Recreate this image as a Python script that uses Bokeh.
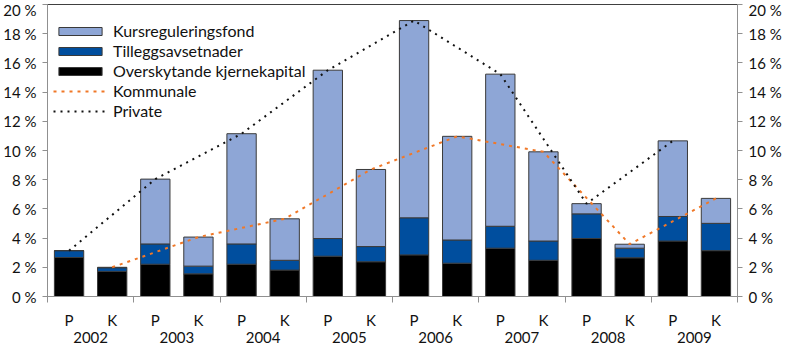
from bokeh.plotting import figure
from bokeh.models import (ColumnDataSource, Range1d, LinearAxis, FixedTicker,
                          Legend, LegendItem)
from bokeh.embed import file_html
from bokeh.resources import INLINE

years = ["2002", "2003", "2004", "2005", "2006", "2007", "2008", "2009"]
groups = ["P", "K"] * 8
# values in percent, bars in order 2002 P, 2002 K, 2003 P, ...
kjerne = [2.67, 1.72, 2.21, 1.55, 2.21, 1.81, 2.76, 2.38, 2.85, 2.28, 3.31, 2.48, 3.97, 2.65, 3.80, 3.14]
tillegg = [0.47, 0.25, 1.39, 0.53, 1.39, 0.67, 1.21, 1.04, 2.54, 1.59, 1.50, 1.32, 1.69, 0.66, 1.68, 1.87]
kurs = [0.00, 0.03, 4.44, 1.99, 7.55, 2.84, 11.53, 5.28, 13.51, 7.10, 10.42, 6.11, 0.70, 0.27, 5.18, 1.71]
private_tot = [3.14, 8.04, 11.15, 15.50, 18.90, 15.23, 6.36, 10.66]
kommunale_tot = [2.00, 4.07, 5.32, 8.70, 10.97, 9.91, 3.58, 6.72]

FONT = "Lato"
FS = "15px"

x = [i + 0.5 for i in range(16)]
b1 = kjerne
b2 = [a + b for a, b in zip(kjerne, tillegg)]
b3 = [a + b for a, b in zip(b2, kurs)]
src = ColumnDataSource(dict(x=x, b0=[0] * 16, b1=b1, b2=b2, b3=b3))

p = figure(width=784, height=345, output_backend="svg", toolbar_location=None,
           x_range=Range1d(0, 16), y_range=Range1d(0, 20),
           min_border_left=4, min_border_right=4, min_border_top=4, min_border_bottom=0)
p.xgrid.visible = False
p.ygrid.visible = False
p.outline_line_color = "#404040"
p.outline_line_width = 1

outline = "#3a3a3a"
w = 0.68
r_k = p.vbar(x="x", bottom="b0", top="b1", width=w, source=src,
             fill_color="#000000", line_color=outline, line_width=1)
r_t = p.vbar(x="x", bottom="b1", top="b2", width=w, source=src,
             fill_color="#004E9E", line_color=outline, line_width=1)
r_f = p.vbar(x="x", bottom="b2", top="b3", width=w, source=src,
             fill_color="#8EA6D6", line_color=outline, line_width=1)

xp = [i * 2 + 0.5 for i in range(8)]
xk = [i * 2 + 1.5 for i in range(8)]
r_kom = p.line(xk, kommunale_tot, line_color="#F07828", line_width=2, line_dash="3 5")
r_pri = p.line(xp, private_tot, line_color="#111111", line_width=2, line_dash="2 5")

# y axes
yticks = list(range(0, 21, 2))
ylab = {t: f"{t} %" for t in yticks}
p.yaxis.ticker = FixedTicker(ticks=yticks)
p.yaxis.major_label_overrides = ylab
yr = LinearAxis(ticker=FixedTicker(ticks=yticks), major_label_overrides=ylab)
p.add_layout(yr, "right")
for ax in (p.yaxis[0], yr):
    ax.axis_line_color = "#909090"
    ax.major_tick_line_color = "#909090"
    ax.major_tick_out = 5
    ax.major_tick_in = 0
    ax.minor_tick_line_color = None
    ax.major_label_text_font = FONT
    ax.major_label_text_font_size = FS
    ax.major_label_text_color = "#111111"
    ax.major_label_standoff = 6
    ax.axis_label_standoff = 0

# x axis: P/K labels with boundary ticks as minor ticks
xa = p.xaxis[0]
xa.ticker = FixedTicker(ticks=x, minor_ticks=[2 * i for i in range(9)])
xa.major_label_overrides = {xi: g for xi, g in zip(x, groups)}
xa.major_tick_line_color = None
xa.major_tick_out = 0
xa.major_tick_in = 0
xa.minor_tick_line_color = "#909090"
xa.minor_tick_out = 6
xa.minor_tick_in = 0
xa.axis_line_color = "#909090"
xa.major_label_text_font = FONT
xa.major_label_text_font_size = FS
xa.major_label_text_color = "#111111"
xa.major_label_standoff = 8
xa.axis_label_standoff = 0

yc = [2 * i + 1 for i in range(8)]
ya = LinearAxis(ticker=FixedTicker(ticks=yc, minor_ticks=[]),
                major_label_overrides={c: y for c, y in zip(yc, years)})
ya.axis_line_color = None
ya.major_tick_line_color = None
ya.minor_tick_line_color = None
ya.major_tick_out = 0
ya.major_tick_in = 0
ya.major_label_text_font = FONT
ya.major_label_text_font_size = FS
ya.major_label_text_color = "#111111"
ya.major_label_standoff = 0
ya.axis_label_standoff = 0
p.add_layout(ya, "below")

legend = Legend(items=[
    LegendItem(label="Kursreguleringsfond", renderers=[r_f]),
    LegendItem(label="Tilleggsavsetnader", renderers=[r_t]),
    LegendItem(label="Overskytande kjernekapital", renderers=[r_k]),
    LegendItem(label="Kommunale", renderers=[r_kom]),
    LegendItem(label="Private", renderers=[r_pri]),
], location=(6, 176))
legend.background_fill_alpha = 0
legend.border_line_color = None
legend.label_text_font = FONT
legend.label_text_font_size = "16px"
legend.label_text_color = "#111111"
legend.glyph_width = 54
legend.glyph_height = 10
legend.label_height = 14
legend.spacing = 1
legend.padding = 0
legend.margin = 0
legend.label_standoff = 6
p.add_layout(legend)

open("out.html", "w").write(file_html(p, INLINE))
